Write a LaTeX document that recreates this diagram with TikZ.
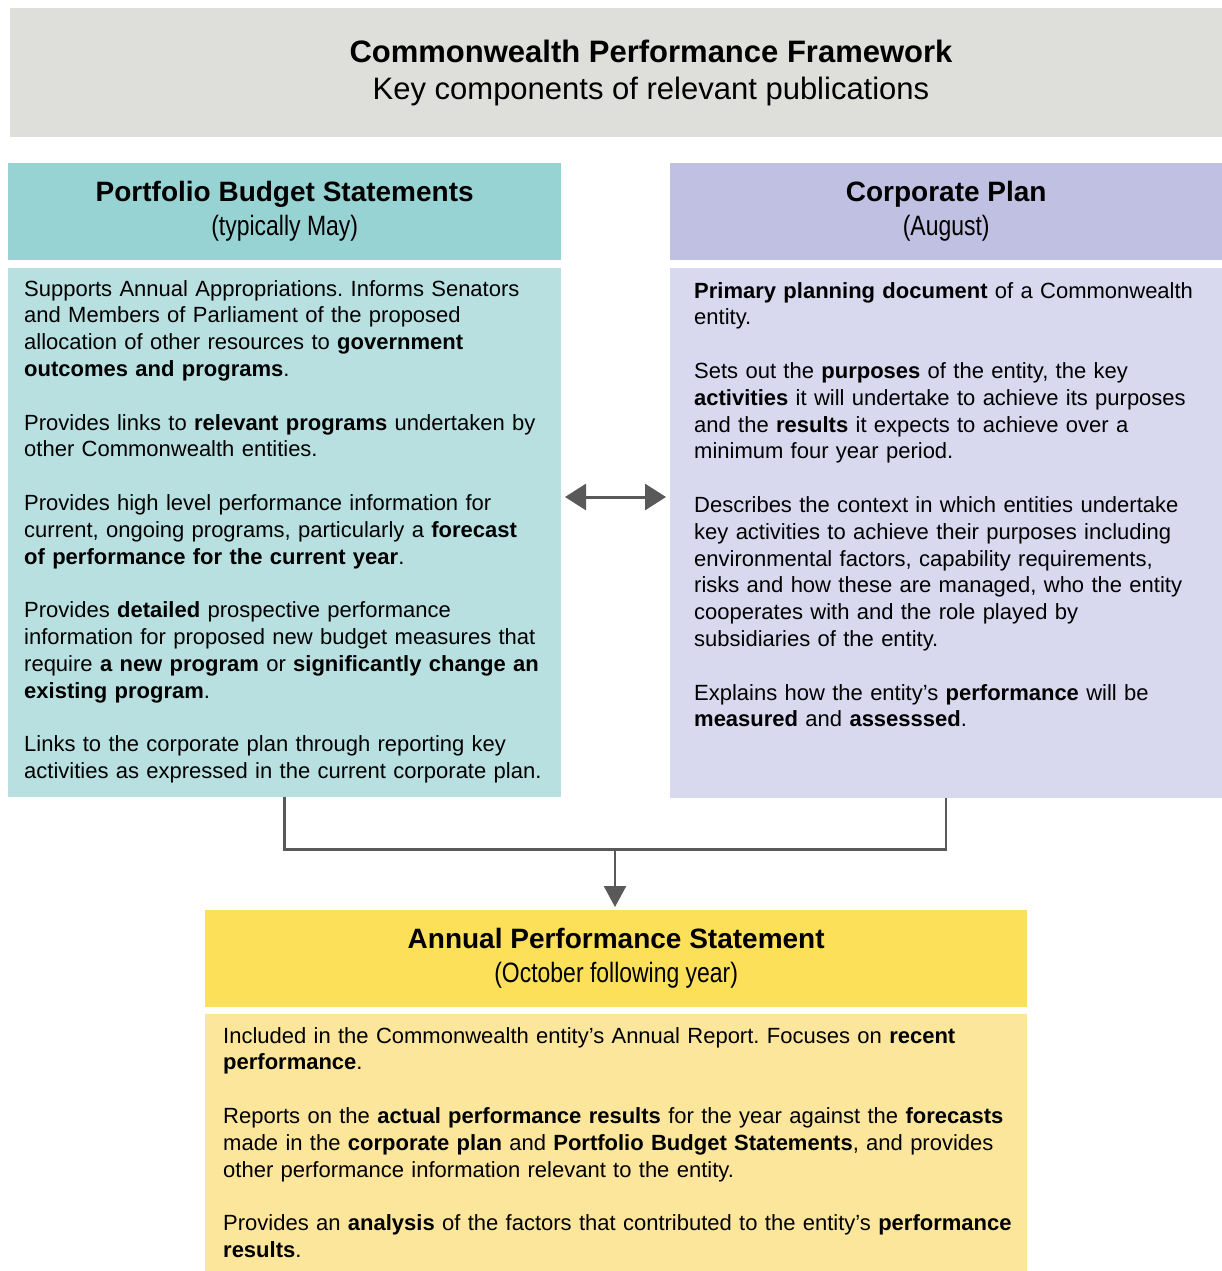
\documentclass[tikz,border=0pt]{standalone}
\usepackage{fontspec}
\setmainfont{Liberation Sans}
\newfontfamily\narrowfont[FakeStretch=0.82]{Liberation Sans}
\usetikzlibrary{arrows.meta,positioning}

\definecolor{titlegray}{RGB}{222,222,219}
\definecolor{pbshead}{RGB}{152,211,211}
\definecolor{pbsbody}{RGB}{185,224,225}
\definecolor{cphead}{RGB}{192,192,226}
\definecolor{cpbody}{RGB}{216,216,238}
\definecolor{apshead}{RGB}{253,224,90}
\definecolor{apsbody}{RGB}{251,230,156}
\definecolor{arrowgray}{RGB}{89,89,89}

\newcommand{\paragap}{\\[26.8pt]}
\frenchspacing

\tikzset{
  panel/.style={rectangle, inner sep=0pt, anchor=north west},
  headtext/.style={align=center, font=\fontsize{28}{34}\selectfont},
  bodytext/.style={align=left, inner sep=0pt, anchor=north west,
    text width=820pt, font=\fontsize{22}{26.8}\selectfont},
  link/.style={draw=arrowgray, line width=2.5pt},
  bigtip/.style={line width=3pt},
}

\begin{document}
\begin{tikzpicture}[x=1pt, y=-1pt]
	\useasboundingbox (0,0) rectangle (1222,1271);

	% title
	\node[panel, fill=titlegray, minimum width=1212pt, minimum height=129pt] (title) at (10,8) {};
	\node[align=center, font=\fontsize{31}{37}\selectfont] (titletext) at (651,73)
	   {\textbf{Commonwealth Performance Framework}\\Key components of relevant publications};

	% portfolio budget statements
	\node[panel, headtext, fill=pbshead, minimum width=553pt, minimum height=97pt] (pbshead) at (8,163)
	   {\textbf{Portfolio Budget Statements}\\{\narrowfont (typically May)}};
	\node[panel, fill=pbsbody, minimum width=553pt, minimum height=529pt] (pbsbody) at (8,268) {};
	\node[bodytext] (pbstext) at ([xshift=16pt, yshift=-12pt]pbsbody.north west) {%
	   Supports Annual Appropriations. Informs Senators\\
	   and Members of Parliament of the proposed\\
	   allocation of other resources to \textbf{government}\\
	   \textbf{outcomes and programs}.\paragap
	   Provides links to \textbf{relevant programs} undertaken by\\
	   other Commonwealth entities.\paragap
	   Provides high level performance information for\\
	   current, ongoing programs, particularly a \textbf{forecast}\\
	   \textbf{of performance for the current year}.\paragap
	   Provides \textbf{detailed} prospective performance\\
	   information for proposed new budget measures that\\
	   require \textbf{a new program} or \textbf{significantly change an}\\
	   \textbf{existing program}.\paragap
	   Links to the corporate plan through reporting key\\
	   activities as expressed in the current corporate plan.};

	% corporate plan
	\node[panel, headtext, fill=cphead, minimum width=552pt, minimum height=97pt] (cphead) at (670,163)
	   {\textbf{Corporate Plan}\\{\narrowfont (August)}};
	\node[panel, fill=cpbody, minimum width=552pt, minimum height=530pt] (cpbody) at (670,268) {};
	\node[bodytext] (cptext) at ([xshift=24pt, yshift=-14pt]cpbody.north west) {%
	   \textbf{Primary planning document} of a Commonwealth\\
	   entity.\paragap
	   Sets out the \textbf{purposes} of the entity, the key\\
	   \textbf{activities} it will undertake to achieve its purposes\\
	   and the \textbf{results} it expects to achieve over a\\
	   minimum four year period.\paragap
	   Describes the context in which entities undertake\\
	   key activities to achieve their purposes including\\
	   environmental factors, capability requirements,\\
	   risks and how these are managed, who the entity\\
	   cooperates with and the role played by\\
	   subsidiaries of the entity.\paragap
	   Explains how the entity’s \textbf{performance} will be\\
	   \textbf{measured} and \textbf{assesssed}.};

	% annual performance statement
	\node[panel, headtext, fill=apshead, minimum width=822pt, minimum height=97pt] (apshead) at (205,910)
	   {\textbf{Annual Performance Statement}\\{\narrowfont (October following year)}};
	\node[panel, fill=apsbody, minimum width=822pt, minimum height=257pt] (apsbody) at (205,1014) {};
	\node[bodytext] (apstext) at ([xshift=18pt, yshift=-13pt]apsbody.north west) {%
	   Included in the Commonwealth entity’s Annual Report. Focuses on \textbf{recent}\\
	   \textbf{performance}.\paragap
	   Reports on the \textbf{actual performance results} for the year against the \textbf{forecasts}\\
	   made in the \textbf{corporate plan} and \textbf{Portfolio Budget Statements}, and provides\\
	   other performance information relevant to the entity.\paragap
	   Provides an \textbf{analysis} of the factors that contributed to the entity’s \textbf{performance}\\
	   \textbf{results}.};

	% connectors
	\coordinate (lefttip) at (565,497);
	\coordinate (righttip) at (666,497);
	\draw[link, bigtip, {Triangle[width=26pt,length=21pt]}-{Triangle[width=26pt,length=21pt]}]
	   (lefttip) -- (righttip);

	\draw[link] (pbsbody.south) -- ++(0,52) -| (cpbody.south);
	\coordinate (join) at (615,849);
	\draw[link, -{Triangle[width=22pt,length=21pt]}] (join) -- ([yshift=3pt]apshead.north -| join);
\end{tikzpicture}
\end{document}
